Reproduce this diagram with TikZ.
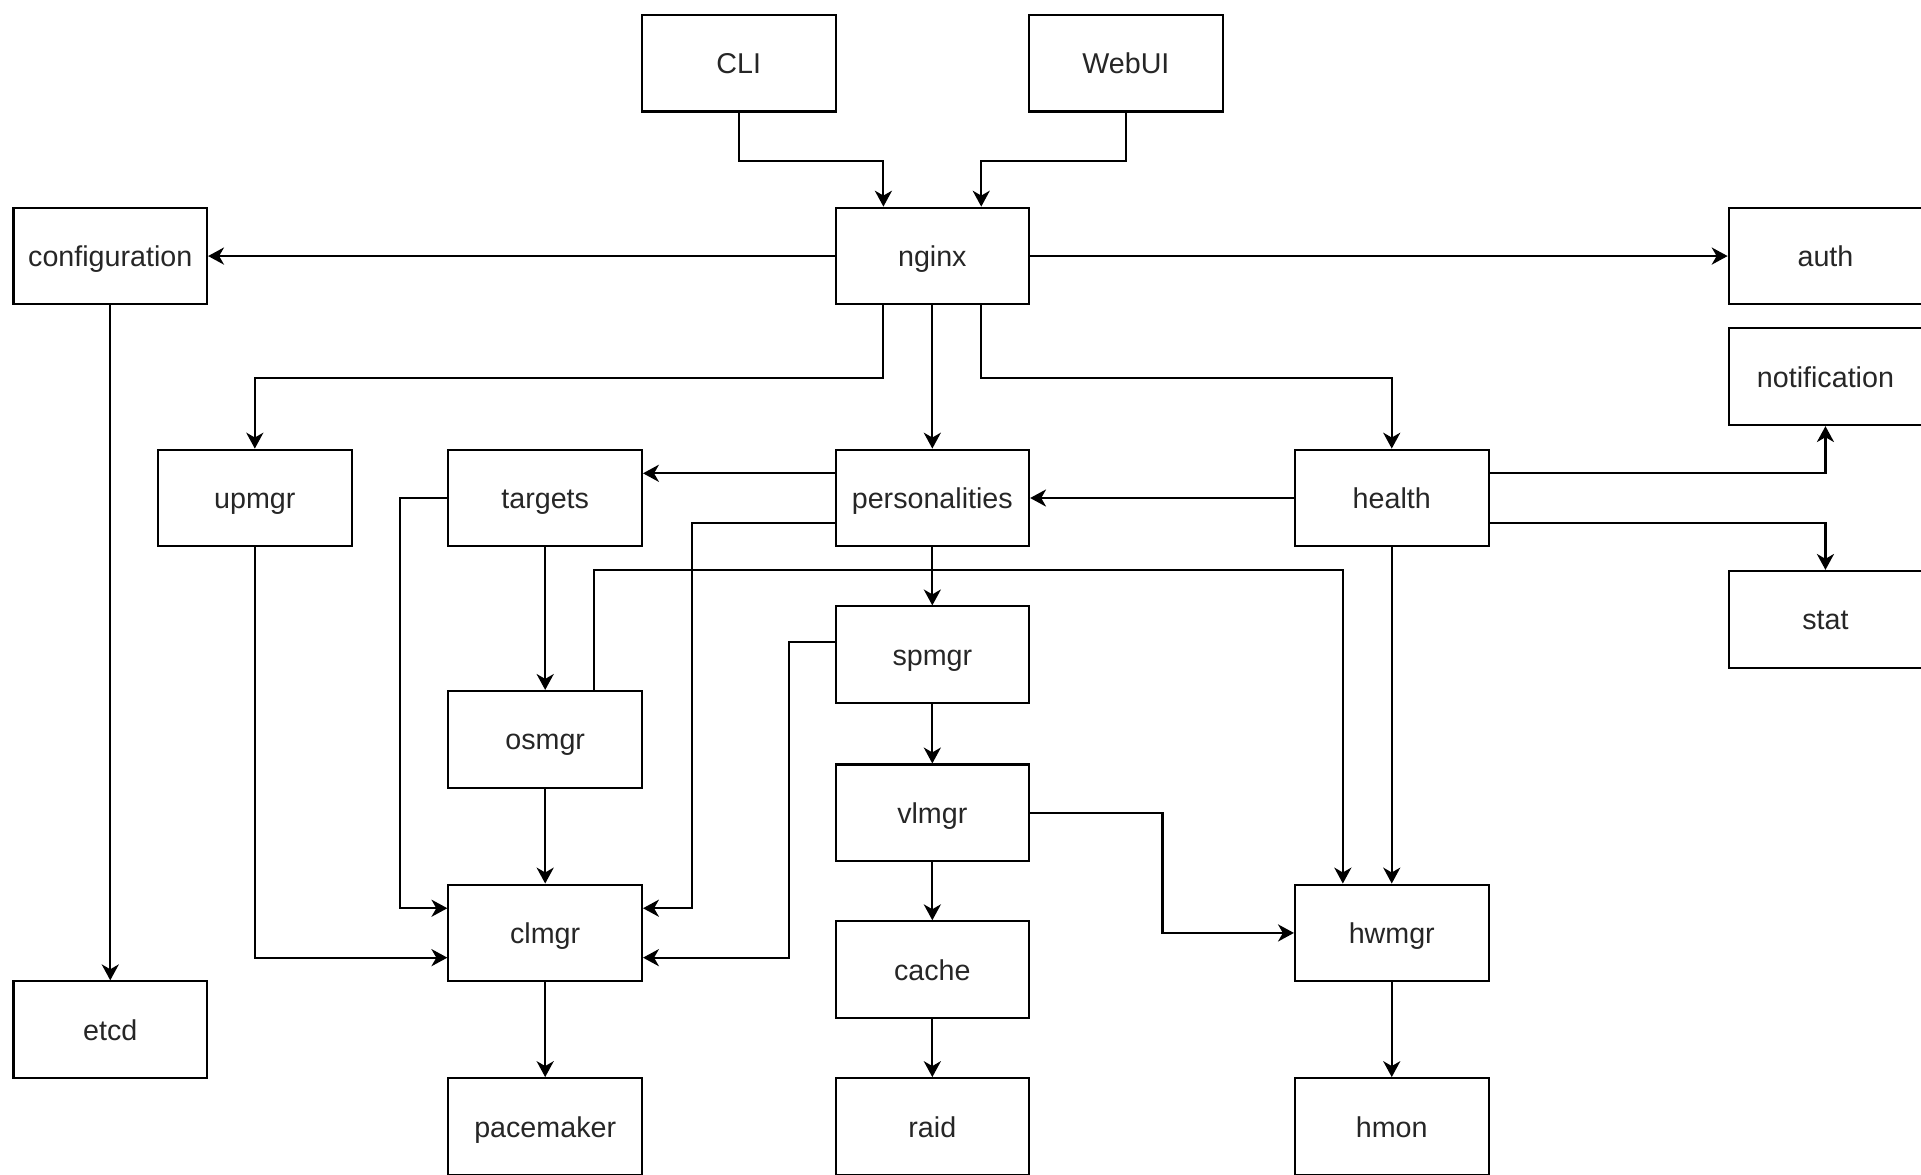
\documentclass[tikz,border=0pt]{standalone}
\usepackage{fontspec}
\setmainfont{Liberation Sans}
\usetikzlibrary{arrows.meta,calc}
\begin{document}
\begin{tikzpicture}[x=0.5pt,y=-0.5pt,
  box/.style={draw, line width=0.85pt, minimum width=79pt, minimum height=39.5pt, inner sep=0pt,
    text height=10.5pt, text depth=1.9pt,
    font=\fontsize{11.7}{14}\selectfont, text=black!85},
  arr/.style={-{Stealth[length=6.5pt,width=7pt,inset=2pt]}, line width=0.85pt}]
\useasboundingbox (0,0) rectangle (1568,959);
\clip (0,0) rectangle (1568,959);
\node[box] (CLI) at (603,51.5) {CLI};
\node[box] (WebUI) at (919,51.5) {WebUI};
\node[box] (nginx) at (761,209) {nginx};
\node[box] (config) at (90,209) {configuration};
\node[box] (auth) at (1490,209) {auth};
\node[box] (notification) at (1490,307.5) {notification};
\node[box] (upmgr) at (208,406.5) {upmgr};
\node[box] (targets) at (445,406.5) {targets};
\node[box] (pers) at (761,406.5) {personalities};
\node[box] (health) at (1136,406.5) {health};
\node[box] (stat) at (1490,505.5) {stat};
\node[box] (spmgr) at (761,534.5) {spmgr};
\node[box] (osmgr) at (445,603.5) {osmgr};
\node[box] (vlmgr) at (761,663.5) {vlmgr};
\node[box] (clmgr) at (445,761.5) {clmgr};
\node[box] (hwmgr) at (1136,761.5) {hwmgr};
\node[box] (cache) at (761,791.5) {cache};
\node[box] (etcd) at (90,840.5) {etcd};
\node[box] (pacemaker) at (445,919.5) {pacemaker};
\node[box] (raid) at (761,919.5) {raid};
\node[box] (hmon) at (1136,919.5) {hmon};

\coordinate (nn1) at ($(nginx.north west)!.25!(nginx.north east)$);
\coordinate (nn3) at ($(nginx.north west)!.75!(nginx.north east)$);
\coordinate (ns1) at ($(nginx.south west)!.25!(nginx.south east)$);
\coordinate (ns3) at ($(nginx.south west)!.75!(nginx.south east)$);
\coordinate (pw1) at ($(pers.north west)!.25!(pers.south west)$);
\coordinate (pw3) at ($(pers.north west)!.75!(pers.south west)$);
\coordinate (cw1) at ($(clmgr.north west)!.25!(clmgr.south west)$);
\coordinate (cw3) at ($(clmgr.north west)!.75!(clmgr.south west)$);
\coordinate (ce1) at ($(clmgr.north east)!.25!(clmgr.south east)$);
\coordinate (ce3) at ($(clmgr.north east)!.75!(clmgr.south east)$);
\coordinate (he1) at ($(health.north east)!.25!(health.south east)$);
\coordinate (he3) at ($(health.north east)!.75!(health.south east)$);
\coordinate (on3) at ($(osmgr.north west)!.75!(osmgr.north east)$);
\coordinate (hn1) at ($(hwmgr.north west)!.25!(hwmgr.north east)$);
\coordinate (sw) at ($(spmgr.north west)!.37!(spmgr.south west)$);

\draw[arr] (CLI.south) -- ++(0,39.5) -| (nn1);
\draw[arr] (WebUI.south) -- ++(0,39.5) -| (nn3);
\draw[arr] (nginx.west) -- (config.east);
\draw[arr] (nginx.east) -- (auth.west);
\draw[arr] (ns1) -- ++(0,59.5) -| (upmgr.north);
\draw[arr] (nginx.south) -- (pers.north);
\draw[arr] (ns3) -- ++(0,59.5) -| (health.north);
\draw[arr] (config.south) -- (etcd.north);
\draw[arr] (pw1) -- (targets.east |- pw1);
\draw[arr] (pw3) -| ($(ce1)+(40,0)$) -- (ce1);
\draw[arr] (health.west) -- (pers.east);
\draw[arr] (he1) -| (notification.south);
\draw[arr] (he3) -| (stat.north);
\draw[arr] (pers.south) -- (spmgr.north);
\draw[arr] (targets.south) -- (osmgr.north);
\draw[arr] (targets.west) -| ($(cw1)+(-39,0)$) -- (cw1);
\draw[arr] (on3) -- ++(0,-98) -| (hn1);
\draw[arr] (health.south) -- (hwmgr.north);
\draw[arr] (sw) -| ($(ce3)+(119,0)$) -- (ce3);
\draw[arr] (spmgr.south) -- (vlmgr.north);
\draw[arr] (osmgr.south) -- (clmgr.north);
\draw[arr] (upmgr.south) |- (cw3);
\draw[arr] (vlmgr.east) -- ++(108,0) |- (hwmgr.west);
\draw[arr] (vlmgr.south) -- (cache.north);
\draw[arr] (clmgr.south) -- (pacemaker.north);
\draw[arr] (cache.south) -- (raid.north);
\draw[arr] (hwmgr.south) -- (hmon.north);
\end{tikzpicture}
\end{document}
